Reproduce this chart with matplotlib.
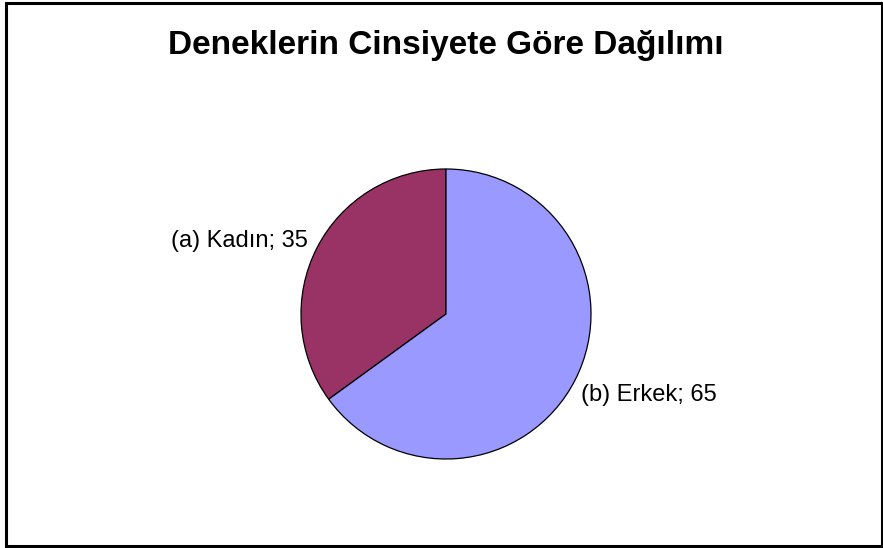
import matplotlib
matplotlib.use("Agg")
import matplotlib.pyplot as plt
from matplotlib.patches import Rectangle

# gender breakdown of subjects
labels = ["(a) Kadın", "(b) Erkek"]
values = [35, 65]
colors = ["#993366", "#9999FF"]

W, H = 883, 548
fig = plt.figure(figsize=(W / 100.0, H / 100.0), dpi=100)
ax = fig.add_axes([0, 0, 1, 1])

# outer frame
ax.add_patch(Rectangle((5.5, 2.5), W - 7, H - 5, fill=False,
                       edgecolor="black", linewidth=2.2))

ax.text(446, H - 54, "Deneklerin Cinsiyete Göre Dağılımı", ha="center", va="baseline",
        fontsize=24, fontweight="bold", family="Liberation Sans")

cx, cy, r = 446, H - 314, 145
wedges, _ = ax.pie(values, colors=colors, startangle=90, counterclock=True,
                   center=(cx, cy), radius=r, frame=True,
                   wedgeprops=dict(edgecolor="black", linewidth=0.9))
ax.set_xlim(0, W)
ax.set_ylim(0, H)
ax.set_aspect("equal")
ax.axis("off")

# data labels: "name; value"
ax.text(308, H - 247, "%s; %d" % (labels[0], values[0]), ha="right", va="baseline",
        fontsize=17, family="Liberation Sans")
ax.text(581, H - 401, "%s; %d" % (labels[1], values[1]), ha="left", va="baseline",
        fontsize=17, family="Liberation Sans")

fig.savefig("out.png", dpi=100)
